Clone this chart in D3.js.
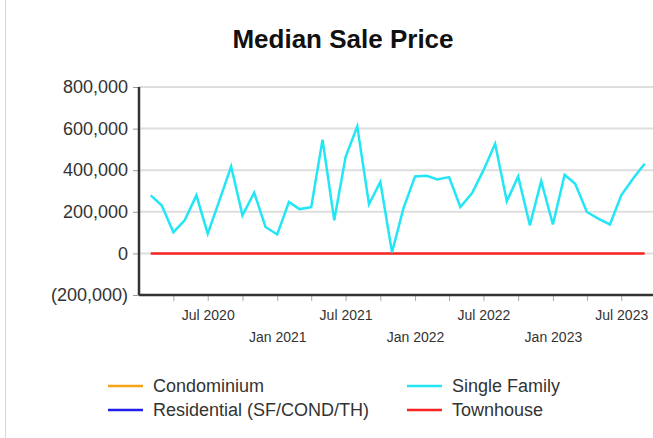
<!DOCTYPE html>
<html>
<head>
<meta charset="utf-8">
<script src="https://cdn.jsdelivr.net/npm/d3@7"></script>
<style>
  body { margin: 0; background: #fff; font-family: "Liberation Sans", Arial, sans-serif; }
  #chart { width: 653px; height: 438px; }
  .axis text { fill: #333; font-family: "Liberation Sans", Arial, sans-serif; }
</style>
</head>
<body>
<div id="chart"></div>
<script>
// months Feb 2020 .. Sep 2023
const months = d3.timeMonths(new Date(2020, 1, 1), new Date(2023, 9, 1));

const singleFamily = [
  279000, 231000, 102000, 159000, 279000, 95000, 255000, 418000, 183000, 292000, 127000,
  91000, 247000, 213000, 222000, 547000, 159000, 463000, 611000, 236000, 343000, 5000, 215000,
  370000, 373000, 356000, 367000, 223000, 290000, 399000, 527000, 251000, 370000, 135000, 348000,
  139000, 378000, 335000, 199000, 167000, 139000, 279000, 359000, 431000
];
const townhouse = months.map(() => 0);

const yTicks = [-200000, 0, 200000, 400000, 600000, 800000];

const legendItems = [
  { name: "Condominium", color: "#f7a21b", col: 0, row: 0 },
  { name: "Residential (SF/COND/TH)", color: "#1f1fe8", col: 0, row: 1 },
  { name: "Single Family", color: "#22e6f5", col: 1, row: 0 },
  { name: "Townhouse", color: "#fa2323", col: 1, row: 1 }
];

const margin = { top: 87, right: 0, bottom: 143, left: 139 };
const width = 653 - margin.left - margin.right;
const height = 438 - margin.top - margin.bottom;

const svg = d3.select("#chart").append("svg")
  .attr("width", 653)
  .attr("height", 438);

// thin page border on the left
svg.append("line")
  .attr("x1", 5.5).attr("x2", 5.5)
  .attr("y1", 0).attr("y2", 438)
  .attr("stroke", "#d6d6d6");

svg.append("text")
  .attr("x", 343)
  .attr("y", 48)
  .attr("text-anchor", "middle")
  .style("font-size", "26px")
  .style("font-weight", "bold")
  .style("fill", "#111")
  .text("Median Sale Price");

const g = svg.append("g")
  .attr("transform", "translate(" + margin.left + "," + margin.top + ")");

const x = d3.scaleTime()
  .domain([new Date(2020, 0, 1), new Date(2023, 9, 1)])
  .range([0, 517]);
const y = d3.scaleLinear()
  .domain([-200000, 800000])
  .range([height, 0]);

// gridlines
g.append("g")
  .selectAll("line")
  .data(yTicks.filter(d => d > -200000))
  .enter().append("line")
  .attr("x1", 0)
  .attr("x2", width)
  .attr("y1", d => y(d))
  .attr("y2", d => y(d))
  .attr("stroke", "#dedede")
  .attr("stroke-width", 2);

const fmt = d3.format(",");
g.append("g")
  .attr("class", "y axis")
  .call(d3.axisLeft(y).tickValues(yTicks).tickSize(6).tickPadding(5)
    .tickFormat(d => d < 0 ? "(" + fmt(-d) + ")" : fmt(d)))
  .call(a => a.select(".domain").remove())
  .call(a => a.selectAll("line").attr("stroke", "#999"))
  .call(a => a.selectAll("text").style("font-size", "18px"));

const quarters = d3.timeMonths(new Date(2020, 3, 1), new Date(2023, 7, 1), 3);
g.append("g")
  .attr("class", "x axis")
  .attr("transform", "translate(0," + height + ")")
  .call(d3.axisBottom(x).tickValues(quarters).tickSize(6)
    .tickFormat(d => d.getMonth() == 6 || d.getMonth() == 0 ? d3.timeFormat("%b %Y")(d) : ""))
  .call(a => a.select(".domain").remove())
  .call(a => a.selectAll("line").attr("stroke", "#aaa"))
  .call(a => a.selectAll("text")
    .style("font-size", "14px")
    .attr("y", d => d.getMonth() == 0 ? 37 : 15));

// axis lines
g.append("line")
  .attr("x1", 0).attr("x2", 0)
  .attr("y1", 0).attr("y2", height)
  .attr("stroke", "#333").attr("stroke-width", 2.5);
g.append("line")
  .attr("x1", 0).attr("x2", width)
  .attr("y1", height).attr("y2", height)
  .attr("stroke", "#333").attr("stroke-width", 2.5);

const line = d3.line()
  .x((d, i) => x(months[i]))
  .y(d => y(d));

g.append("path")
  .datum(townhouse)
  .attr("d", line)
  .attr("fill", "none")
  .attr("stroke", "#fa2323")
  .attr("stroke-width", 2.5);

g.append("path")
  .datum(singleFamily)
  .attr("d", line)
  .attr("fill", "none")
  .attr("stroke", "#22e6f5")
  .attr("stroke-width", 2.5)
  .attr("stroke-linejoin", "miter");

// legend
const legend = svg.append("g")
  .selectAll("g")
  .data(legendItems)
  .enter().append("g")
  .attr("transform", d => "translate(" + (108 + d.col * 299) + "," + (386 + d.row * 24) + ")");

legend.append("line")
  .attr("x1", 0).attr("x2", 35)
  .attr("stroke", d => d.color)
  .attr("stroke-width", 2.5);

legend.append("text")
  .attr("x", 45)
  .attr("dy", "0.35em")
  .style("font-size", "18px")
  .style("fill", "#333")
  .text(d => d.name);
</script>
</body>
</html>
